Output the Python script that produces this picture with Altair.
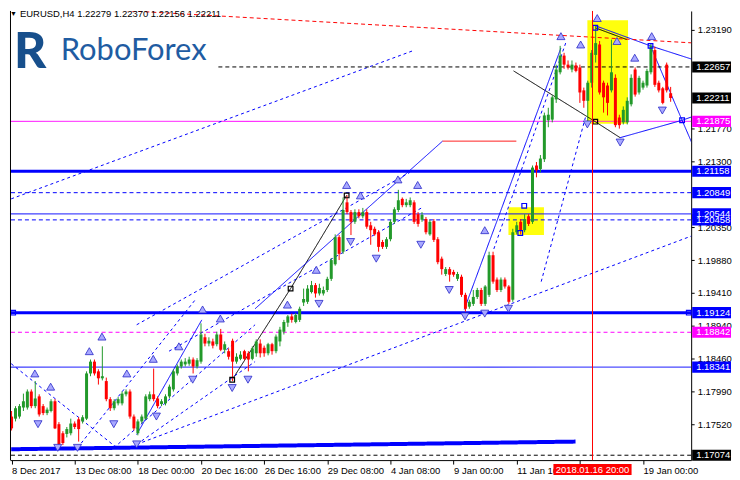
import json
import altair as alt
import pandas as pd

# ---------------- candle data (EURUSD H4) ----------------
opens = [1.1763,1.1760,1.1763,1.1776,1.1776,1.1799,1.1778,1.1792,1.1778,1.1768,
         1.1771,1.1785,1.1752,1.1739,1.1738,1.1739,1.1753,1.1759,1.1756,1.1760,
         1.1825,1.1842,1.1828,1.1818,1.1814,1.1788,1.1775,1.1782,1.1782,1.1795,
         1.1799,1.1763,1.1739,1.1756,1.1760,1.1788,1.1795,1.1789,1.1781,1.1782,
         1.1792,1.1802,1.1825,1.1835,1.1838,1.1839,1.1845,1.1835,1.1842,1.1877,
         1.1868,1.1871,1.1867,1.1881,1.1859,1.1857,1.1872,1.1842,1.1846,1.1857,
         1.1854,1.1846,1.1854,1.1868,1.1862,1.1854,1.1867,1.1857,1.1871,1.1885,
         1.1898,1.1907,1.1899,1.1902,1.1927,1.1928,1.1942,1.1952,1.1940,1.1940,
         1.1945,1.1961,1.1982,1.2021,1.2000,1.2071,1.2057,1.2043,1.2057,1.2051,
         1.2057,1.2038,1.2033,1.2028,1.2014,1.2007,1.2018,1.2043,1.2060,1.2076,
         1.2067,1.2067,1.2071,1.2054,1.2046,1.2047,1.2025,1.2044,1.2018,1.1990,
         1.1968,1.1975,1.1971,1.1961,1.1964,1.1938,1.1921,1.1925,1.1935,1.1945,
         1.1925,1.1938,1.1995,1.1960,1.1945,1.1960,1.1950,1.1931,1.2028,1.2043,
         1.2031,1.2051,1.2043,1.2124,1.2119,1.2133,1.2189,1.2190,1.2219,1.2258,
         1.2282,1.2269,1.2262,1.2268,1.2265,1.2232,1.2217,1.2243,1.2283,1.2298,
         1.2243,1.2239,1.2232,1.2250,1.2193,1.2186,1.2186,1.2212,1.2262,1.2229,
         1.2236,1.2239,1.2258,1.2290,1.2243,1.2235,1.2269,1.22279]
highs = [1.1771,1.1778,1.1781,1.1796,1.1802,1.1802,1.1814,1.1795,1.1781,1.1776,
         1.1788,1.1788,1.1755,1.1742,1.1748,1.1760,1.1756,1.1762,1.1765,1.1828,
         1.1845,1.1845,1.1831,1.1864,1.1819,1.1791,1.1788,1.1791,1.1799,1.1802,
         1.1802,1.1766,1.1759,1.1766,1.1795,1.1799,1.1832,1.1792,1.1788,1.1795,
         1.1809,1.1831,1.1838,1.1845,1.1847,1.1849,1.1848,1.1847,1.1897,1.1882,
         1.1877,1.1875,1.1885,1.1889,1.1871,1.1861,1.1875,1.1854,1.1857,1.1859,
         1.1857,1.1864,1.1874,1.1874,1.1865,1.1869,1.1869,1.1881,1.1892,1.1902,
         1.1909,1.1911,1.1912,1.1921,1.1947,1.1952,1.1958,1.1955,1.1954,1.1950,
         1.1964,1.1991,1.2025,1.2024,1.2078,1.2081,1.2060,1.2061,1.2061,1.2063,
         1.2061,1.2043,1.2036,1.2031,1.2017,1.2021,1.2046,1.2064,1.2089,1.2078,
         1.2076,1.2078,1.2074,1.2057,1.2057,1.2050,1.2046,1.2047,1.2021,1.1993,
         1.1978,1.1978,1.1974,1.1971,1.1967,1.1941,1.1931,1.1945,1.1948,1.1948,
         1.1952,1.2000,1.2000,1.1963,1.1963,1.1963,1.1952,1.2033,1.2043,1.2047,
         1.2054,1.2054,1.2124,1.2129,1.2139,1.2200,1.2207,1.2225,1.2269,1.2296,
         1.2286,1.2275,1.2275,1.2272,1.2269,1.2236,1.2246,1.2290,1.2325,1.2303,
         1.2246,1.2243,1.2305,1.2255,1.2197,1.2209,1.2222,1.2255,1.2265,1.2253,
         1.2246,1.2263,1.2300,1.2295,1.2246,1.2237,1.2272,1.22370]
lows = [1.1743,1.1756,1.1760,1.1771,1.1773,1.1775,1.1775,1.1763,1.1765,1.1765,
        1.1769,1.1745,1.1717,1.1722,1.1733,1.1736,1.1745,1.1727,1.1753,1.1758,
        1.1821,1.1822,1.1809,1.1815,1.1785,1.1771,1.1772,1.1779,1.1779,1.1792,
        1.1760,1.1743,1.1736,1.1753,1.1758,1.1785,1.1785,1.1775,1.1778,1.1779,
        1.1789,1.1799,1.1822,1.1832,1.1835,1.1836,1.1825,1.1832,1.1839,1.1864,
        1.1864,1.1861,1.1864,1.1857,1.1854,1.1845,1.1814,1.1839,1.1844,1.1844,
        1.1828,1.1844,1.1849,1.1848,1.1849,1.1851,1.1852,1.1854,1.1864,1.1881,
        1.1892,1.1898,1.1897,1.1899,1.1922,1.1925,1.1940,1.1934,1.1937,1.1937,
        1.1942,1.1958,1.1980,1.1988,1.1997,1.2054,1.2024,1.2040,1.2048,1.2048,
        1.2033,1.2010,1.2023,1.2000,1.2004,1.2004,1.2015,1.2040,1.2057,1.2064,
        1.2064,1.2064,1.2040,1.2036,1.2043,1.2025,1.2023,1.2014,1.1982,1.1967,
        1.1965,1.1957,1.1964,1.1958,1.1935,1.1914,1.1918,1.1922,1.1932,1.1922,
        1.1922,1.1935,1.1954,1.1942,1.1942,1.1947,1.1925,1.1928,1.2025,1.2025,
        1.2028,1.2037,1.2040,1.2107,1.2114,1.2129,1.2179,1.2186,1.2214,1.2255,
        1.2263,1.2262,1.2258,1.2258,1.2214,1.2207,1.2186,1.2236,1.2272,1.2226,
        1.2200,1.2196,1.2229,1.2179,1.2177,1.2183,1.2183,1.2209,1.2223,1.2226,
        1.2233,1.2236,1.2255,1.2237,1.2229,1.2212,1.2229,1.22156]
closes = [1.1746,1.1775,1.1778,1.1785,1.1799,1.1778,1.1789,1.1766,1.1768,1.1773,
          1.1785,1.1746,1.1723,1.1725,1.1745,1.1753,1.1748,1.1745,1.1762,1.1825,
          1.1842,1.1825,1.1818,1.1821,1.1788,1.1775,1.1785,1.1788,1.1796,1.1799,
          1.1763,1.1746,1.1756,1.1763,1.1792,1.1795,1.1788,1.1778,1.1785,1.1792,
          1.1806,1.1828,1.1835,1.1842,1.1842,1.1845,1.1835,1.1844,1.1881,1.1868,
          1.1872,1.1865,1.1881,1.1859,1.1867,1.1849,1.1842,1.1849,1.1852,1.1846,
          1.1845,1.1861,1.1871,1.1854,1.1854,1.1867,1.1857,1.1878,1.1888,1.1899,
          1.1907,1.1902,1.1909,1.1918,1.1932,1.1947,1.1952,1.1940,1.1948,1.1945,
          1.1961,1.1988,1.2021,1.1997,1.2060,1.2057,1.2043,1.2057,1.2051,1.2057,
          1.2036,1.2031,1.2025,1.2007,1.2007,1.2018,1.2043,1.2061,1.2074,1.2067,
          1.2071,1.2074,1.2043,1.2040,1.2053,1.2028,1.2043,1.2017,1.1985,1.1975,
          1.1975,1.1967,1.1967,1.1968,1.1938,1.1918,1.1928,1.1935,1.1945,1.1925,
          1.1950,1.1995,1.1957,1.1945,1.1960,1.1950,1.1928,1.2028,1.2038,1.2031,
          1.2047,1.2040,1.2121,1.2117,1.2134,1.2196,1.2197,1.2222,1.2262,1.2282,
          1.2269,1.2265,1.2269,1.2260,1.2229,1.2217,1.2243,1.2286,1.2300,1.2229,
          1.2222,1.2214,1.2258,1.2182,1.2182,1.2204,1.2217,1.2250,1.2226,1.2250,
          1.2243,1.2260,1.2296,1.2240,1.2232,1.2214,1.2232,1.22211]

# ---------------- axes ----------------
date_ticks = [0, 16, 32, 48, 64, 80, 96, 112, 128, 144, 160]
date_labels = ["8 Dec 2017", "13 Dec 08:00", "18 Dec 00:00", "20 Dec 16:00",
               "26 Dec 16:00", "29 Dec 08:00", "4 Jan 08:00", "9 Jan 00:00",
               "11 Jan 16:00", "", "19 Jan 00:00"]
# scale labels that stay visible beside the price markers
price_ticks = [1.23190, 1.21770, 1.21300, 1.20350, 1.19880, 1.19410, 1.18940,
               1.18460, 1.17990, 1.17520]

# ---------------- horizontal levels ----------------
level_prices = [1.21875, 1.21158, 1.20849, 1.20544, 1.20458, 1.19124, 1.18842, 1.18341, 1.17074]
level_colors = ["#ff00ff", "#0000ff", "#0000ff", "#0000ff", "#0000ff", "#0000ff", "#ff00ff", "#0000ff", "#000000"]
level_dash = ["solid", "solid", "dash", "solid", "dash", "solid", "dash", "solid", "dash"]
level_width = [1, 3, 1, 1, 1, 3, 1, 1, 1]

# price markers on the right scale
marker_prices = [1.22657, 1.22211, 1.21875, 1.21158, 1.20849, 1.20544, 1.20458, 1.19124, 1.18842, 1.18341, 1.17074]
marker_bg = ["#000000", "#000000", "#ff00ff", "#0000ff", "#0000ff", "#0000ff", "#0000ff", "#0000ff", "#ff00ff", "#0000ff", "#000000"]

# ---------------- drawn objects (bar index, price) ----------------
trend_lines = [
    ("t1", "#0000ff", "dot", 1, [(-0.1, 1.2076), (101.7, 1.2289)]),
    ("t2", "#000000", "solid", 1, [(55.9, 1.1816), (70.7, 1.1947), (84.9, 1.2081)]),
    ("t3", "#000000", "solid", 1, [(127.2, 1.2260), (147.9, 1.2187), (154.2, 1.2164)]),
    ("t4", "#000000", "solid", 1, [(147.9, 1.2322), (155.9, 1.2305)]),
    ("t5", "#0000ff", "solid", 1, [(147.9, 1.2325), (161.9, 1.2296), (173.4, 1.2275)]),
    ("t6", "#0000ff", "solid", 1, [(161.9, 1.2296), (169.9, 1.2189), (173.4, 1.2143)]),
    ("t7", "#0000ff", "solid", 1, [(154.2, 1.2164), (169.9, 1.2189), (173.4, 1.2196)]),
    ("t8", "#0000ff", "solid", 1, [(114.7, 1.1917), (139.2, 1.2293)]),
    ("t9", "#0000ff", "solid", 1, [(61.7, 1.1918), (109.2, 1.2159)]),
    ("t10", "#ff0000", "solid", 1, [(109.2, 1.2159), (127.9, 1.2159)]),
    ("t11", "#0000ff", "dot", 1, [(31.7, 1.1723), (173.4, 1.2025)]),
    ("t12", "#0000ff", "solid", 4, [(-0.1, 1.1716), (142.9, 1.1727)]),
    ("t13", "#ff0000", "dash", 1, [(9.2, 1.2353), (173.4, 1.2300)]),
    ("t14", "#000000", "dash", 1, [(52.4, 1.22657), (173.4, 1.22657)]),
    ("d1", "#0000ff", "dot", 1, [(-0.1, 1.1839), (26.7, 1.1718)]),
    ("d2", "#0000ff", "dot", 1, [(16.7, 1.1718), (46.7, 1.1932)]),
    ("d3", "#0000ff", "dot", 1, [(25.9, 1.1718), (61.7, 1.1895)]),
    ("d4", "#0000ff", "dot", 1, [(31.7, 1.1723), (61.7, 1.1842)]),
    ("s1", "#0000ff", "solid", 1, [(31.7, 1.1737), (48.2, 1.1902)]),
    ("d5", "#0000ff", "dot", 1, [(31.7, 1.1895), (100.9, 1.2114)]),
    ("d6", "#0000ff", "dot", 1, [(39.9, 1.1857), (104.2, 1.2064)]),
    ("dA", "#0000ff", "dot", 1, [(122.2, 1.2004), (140.4, 1.2300)]),
    ("dB", "#0000ff", "dot", 1, [(134.2, 1.1957), (145.4, 1.2193)]),
]

yellow_boxes = [(125.9, 134.9, 1.2024, 1.2064), (145.9, 156.2, 1.2184, 1.2333)]

up_arrow_i = [5.9, 9.9, 19.7, 22.9, 29.2, 35.9, 42.4, 48.4, 52.9, 69.9, 77.2, 84.9, 88.4,
              97.9, 102.9, 119.9, 139.2, 144.2, 148.4, 153.4, 157.9, 162.2]
up_arrow_p = [1.1825, 1.1806, 1.1857, 1.1878, 1.1825, 1.1846, 1.1864, 1.1917, 1.1904, 1.1924,
              1.1974, 1.2096, 1.2081, 1.2104, 1.2096, 1.2031, 1.2310, 1.2298, 1.2336, 1.2303,
              1.2279, 1.2310]
down_arrow_i = [6.7, 11.7, 16.7, 25.9, 31.7, 36.7, 45.9, 55.9, 59.9, 77.9, 85.9, 92.4, 103.7,
                110.9, 114.9, 119.9, 125.9, 145.9, 154.2, 164.9]
down_arrow_p = [1.1752, 1.1718, 1.1718, 1.1752, 1.1723, 1.1763, 1.1816, 1.1804, 1.1816, 1.1925,
                1.2014, 1.1990, 1.2010, 1.1945, 1.1907, 1.1911, 1.1918, 1.2183, 1.2157, 1.2203]

square_i = [84.9, 70.7, 55.9, 147.9, 147.9, 161.9, 169.9, 0.4, 171.6, 129.9, 128.9]
square_p = [1.2081, 1.1947, 1.1816, 1.2322, 1.2187, 1.2296, 1.2189, 1.19124, 1.19124, 1.2066, 1.2027]
square_c = ["#000000", "#000000", "#000000", "#0000ff", "#000000", "#0000ff", "#0000ff",
            "#0000ff", "#0000ff", "#0000ff", "#0000ff"]

cross_i = 147.2
cross_label = "2018.01.16 20:00"
title_text = "EURUSD,H4  1.22279 1.22370 1.22156 1.22211"

# ---------------- layout ----------------
W, H = 684, 451
X_DOMAIN = [-0.4, 172.2]
Y_DOMAIN = [1.17004, 1.23462]
FONT = "Liberation Sans"
FS = 9.5

xs = alt.Scale(domain=X_DOMAIN, nice=False, zero=False, padding=0)
ys = alt.Scale(domain=Y_DOMAIN, nice=False, zero=False, padding=0)
x_axis = alt.Axis(orient="bottom", values=date_ticks,
                  labelExpr=json.dumps(date_labels) + "[round(datum.value/16)]",
                  labelAlign="left", tickSize=4, labelPadding=1, grid=False,
                  labelOverlap=False, labelFlush=False, labelBound=False,
                  domainColor="black", tickColor="black", labelColor="black",
                  labelFont=FONT, labelFontSize=FS, zindex=0)
y_axis = alt.Axis(orient="right", values=price_ticks, format=".5f", tickSize=3,
                  labelPadding=3, grid=False, labelOverlap=False, domainColor="black",
                  tickColor="black", labelColor="black", labelFont=FONT, labelFontSize=FS,
                  zindex=0)


def X(f):
    return alt.X(f, type="quantitative", scale=xs, axis=x_axis, title=None)


def Y(f):
    return alt.Y(f, type="quantitative", scale=ys, axis=y_axis, title=None)


dash_scale = alt.Scale(domain=["solid", "dash", "dot"], range=[[1, 0], [4, 3], [3, 3]])

# candles
n = len(opens)
cdf = pd.DataFrame({"i": list(range(n)), "o": opens, "h": highs, "l": lows, "c": closes})
cdf["dir"] = ["up" if c >= o else "down" for o, c in zip(opens, closes)]
ccol = alt.Color("dir:N", scale=alt.Scale(domain=["up", "down"], range=["#22992a", "#ff0000"]), legend=None)
wicks = alt.Chart(cdf).mark_rule(strokeWidth=1).encode(x=X("i"), y=Y("l"), y2="h", color=ccol)
bodies = alt.Chart(cdf).mark_bar(size=3, orient="vertical").encode(x=X("i"), y=Y("o"), y2="c", color=ccol)

# yellow boxes
ydf = pd.DataFrame(yellow_boxes, columns=["x1", "x2", "p1", "p2"])
yellow = alt.Chart(ydf).mark_rect(color="#ffff00", opacity=0.95).encode(x=X("x1"), x2="x2", y=Y("p1"), y2="p2")

# levels
ldf = pd.DataFrame({"p": level_prices, "col": level_colors, "dash": level_dash, "w": level_width})
levels = alt.Chart(ldf).mark_rule().encode(
    y=Y("p"), color=alt.Color("col:N", scale=None),
    strokeDash=alt.StrokeDash("dash:N", scale=dash_scale, legend=None),
    strokeWidth=alt.StrokeWidth("w:Q", scale=None))

# trend lines
rows = []
for tid, col, dash, w, pts in trend_lines:
    for k, (ii, pp) in enumerate(pts):
        rows.append({"id": tid, "k": k, "i": ii, "p": pp, "col": col, "dash": dash, "w": w})
tdf = pd.DataFrame(rows)
trends = alt.Chart(tdf).mark_line(clip=True).encode(
    x=X("i"), y=Y("p"), detail="id:N", order="k:Q",
    color=alt.Color("col:N", scale=None),
    strokeDash=alt.StrokeDash("dash:N", scale=dash_scale, legend=None),
    strokeWidth=alt.StrokeWidth("w:Q", scale=None))

# crosshair
xdf = pd.DataFrame({"i": [cross_i], "a": [cross_i - 9.9], "b": [cross_i + 9.9], "t": [cross_label]})
cross = alt.Chart(xdf).mark_rule(color="#ff0000", strokeWidth=1).encode(x=X("i"))
cross_box = alt.Chart(xdf).mark_rect(color="#ff0000", clip=False).encode(
    x=X("a"), x2="b", y=alt.value(H + 4), y2=alt.value(H + 15))
cross_txt = alt.Chart(xdf).mark_text(color="white", font=FONT, fontSize=FS, baseline="middle", clip=False).encode(
    x=X("i"), y=alt.value(H + 9.5), text="t:N")

# arrows
udf = pd.DataFrame({"i": up_arrow_i, "p": up_arrow_p})
ddf = pd.DataFrame({"i": down_arrow_i, "p": down_arrow_p})
up_arr = alt.Chart(udf).mark_point(shape="triangle-up", filled=True, size=65, fill="#a8a8ff",
                                   stroke="#2828c8", strokeWidth=0.8, opacity=1).encode(x=X("i"), y=Y("p"))
dn_arr = alt.Chart(ddf).mark_point(shape="triangle-down", filled=True, size=65, fill="#a8a8ff",
                                   stroke="#2828c8", strokeWidth=0.8, opacity=1).encode(x=X("i"), y=Y("p"))

sdf = pd.DataFrame({"i": square_i, "p": square_p, "col": square_c})
squares = alt.Chart(sdf).mark_point(shape="square", filled=False, size=22, strokeWidth=1.2, opacity=1).encode(
    x=X("i"), y=Y("p"), color=alt.Color("col:N", scale=None))

# right-side price markers
mdf = pd.DataFrame({"p": marker_prices, "bg": marker_bg})
mdf["lo"] = mdf["p"] - 0.00080
mdf["hi"] = mdf["p"] + 0.00080
mdf["t"] = [f"{v:.5f}" for v in marker_prices]
mk_box = alt.Chart(mdf).mark_rect(clip=False).encode(
    x=alt.value(W + 1), x2=alt.value(W + 40), y=Y("lo"), y2="hi", color=alt.Color("bg:N", scale=None))
mk_txt = alt.Chart(mdf).mark_text(color="white", font=FONT, fontSize=FS, align="left", baseline="middle",
                                  clip=False).encode(x=alt.value(W + 5), y=Y("p"), text="t:N")

# title & logo
tdf2 = pd.DataFrame({"t": [title_text]})
title = alt.Chart(tdf2).mark_text(font=FONT, fontSize=FS, align="left", baseline="middle", color="black").encode(
    x=alt.value(10), y=alt.value(3), text="t:N")
tri = alt.Chart(pd.DataFrame({"t": ["▼"]})).mark_text(fontSize=7, align="left", baseline="middle", color="black").encode(
    x=alt.value(0), y=alt.value(3), text="t:N")
logo = alt.Chart(pd.DataFrame({"t": ["RoboForex"]})).mark_text(
    font="Lato", fontSize=31, align="left", baseline="alphabetic", color="#1f5ca2").encode(
    x=alt.value(51), y=alt.value(49), text="t:N")
logo_icon = alt.Chart(pd.DataFrame({"t": ["R"]})).mark_text(
    font="Lato", fontSize=50, fontWeight=900, align="left", baseline="alphabetic", color="#174f8c").encode(
    x=alt.value(4), y=alt.value(57), text="t:N")

left_border = alt.Chart(pd.DataFrame({"a": [0]})).mark_rule(color="black").encode(
    x=alt.value(0.5), y=alt.value(0), y2=alt.value(H))

chart = alt.layer(
    yellow, levels, trends, wicks, bodies, up_arr, dn_arr, squares, cross,
    cross_box, cross_txt, mk_box, mk_txt, title, tri, logo, logo_icon, left_border
).properties(
    width=W, height=H, padding={"left": 0, "top": 0, "right": 0, "bottom": 0}, background="white"
).configure_view(stroke=None)

chart.save("out.html", embed_options={"renderer": "svg", "actions": False})
